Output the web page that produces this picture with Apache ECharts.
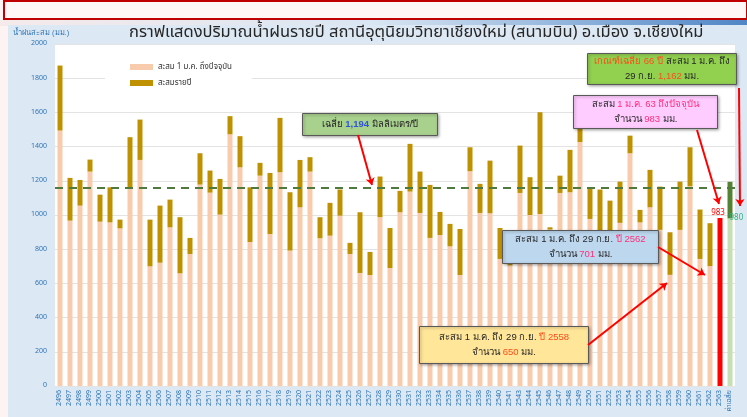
<!DOCTYPE html>
<html>
<head>
<meta charset="utf-8">
<script src="https://cdn.jsdelivr.net/npm/echarts@6/dist/echarts.min.js"></script>
<style>
  html, body { margin: 0; padding: 0; background: #fdf3f3; }
  #rain-chart { width: 747px; height: 417px; }
</style>
</head>
<body>
<div id="rain-chart"></div>
<script>
// ปี พ.ศ. (ไม่มี 2542 ในกราฟต้นฉบับ)
var years = [
  "2496", "2497", "2498", "2499", "2500", "2501", "2502", "2503", "2504", "2505",
  "2506", "2507", "2508", "2509", "2510", "2511", "2512", "2513", "2514", "2515",
  "2516", "2517", "2518", "2519", "2520", "2521", "2522", "2523", "2524", "2525",
  "2526", "2527", "2528", "2529", "2530", "2531", "2532", "2533", "2534", "2535",
  "2536", "2537", "2538", "2539", "2540", "2541", "2543", "2544", "2545", "2546",
  "2547", "2548", "2549", "2550", "2551", "2552", "2553", "2554", "2555", "2556",
  "2557", "2558", "2559", "2560", "2561", "2562", "2563", "ค่าเฉลี่ย"
];

// สะสม 1 ม.ค. ถึง 29 ก.ย. (มม.)
var ytdValues = [
  1494, 967, 1055, 1254, 961, 957, 922, 1152, 1322, 700,
  721, 928, 659, 772, 1178, 1131, 1002, 1472, 1279, 842,
  1230, 889, 1250, 792, 1045, 1254, 864, 879, 996, 772,
  661, 649, 987, 690, 1016, 1137, 1012, 866, 883, 817,
  649, 1256, 1012, 1010, 743, 705, 1129, 1000, 1006, 915,
  1129, 1133, 1427, 977, 900, 900, 954, 1361, 957, 1045,
  913, 650, 913, 1168, 743, 701, 983, 980
];

// สะสมทั้งปี (มม.)
var annualValues = [
  1874, 1217, 1205, 1324, 1119, 1162, 973, 1455, 1558, 973,
  1055, 1090, 987, 866, 1361, 1260, 1211, 1578, 1461, 1162,
  1305, 1246, 1568, 1133, 1322, 1338, 987, 1071, 1149, 837,
  1016, 784, 1225, 924, 1141, 1416, 1254, 1176, 1018, 948,
  918, 1396, 1182, 1318, 924, 860, 1406, 1221, 1601, 928,
  1230, 1381, 1560, 1162, 1149, 1084, 1195, 1464, 1030, 1264,
  1166, 899, 1195, 1396, 1032, 952, null, 1194
];

var normalLine = 1162;

var pinkColor = "#f8cbad";
var goldColor = "#bf9000";

var n = years.length;
var ytdData = ytdValues.map(function (v, i) {
  if (i === n - 2) {
    return {
      value: v,
      itemStyle: { color: "#ff0000" },
      label: { show: true, position: "top", distance: 1, color: "#ff0000", fontSize: 8, offset: [-2, 0] }
    };
  }
  if (i === n - 1) {
    return {
      value: v,
      itemStyle: { color: "#c5e0b4" },
      label: { show: true, position: [2, -4], color: "#2fb37a", fontSize: 8 }
    };
  }
  return v;
});

var extraData = annualValues.map(function (v, i) {
  if (v === null) return null;
  var d = v - ytdValues[i];
  if (i === n - 1) return { value: d, itemStyle: { color: "#548235" } };
  return d;
});

function box(x, y, w, h, fill, lines) {
  return {
    type: "group",
    left: x,
    top: y,
    z: 100,
    children: [
      {
        type: "rect",
        z: 100,
        shape: { x: 0, y: 0, width: w, height: h },
        style: { fill: fill, stroke: "#595959", lineWidth: 1, shadowBlur: 3, shadowColor: "rgba(0,0,0,0.35)", shadowOffsetX: 1, shadowOffsetY: 1 }
      },
      {
        type: "text",
        z: 101,
        x: w / 2,
        y: h / 2,
        style: {
          text: lines,
          align: "center",
          verticalAlign: "middle",
          fontSize: 9.5,
          lineHeight: 15,
          fill: "#262626",
          rich: {
            b: { fill: "#2f55d4", fontSize: 9.5, fontWeight: "bold" },
            o: { fill: "#ff4d1a", fontSize: 9.5 },
            p: { fill: "#ff2f7a", fontSize: 9.5 }
          }
        }
      }
    ]
  };
}

var option = {
  backgroundColor: "#fdf3f3",
  textStyle: { fontFamily: "Noto Sans Thai, Noto Sans, DejaVu Sans, sans-serif" },
  title: {
    text: "กราฟแสดงปริมาณน้ำฝนรายปี สถานีอุตุนิยมวิทยาเชียงใหม่ (สนามบิน) อ.เมือง จ.เชียงใหม่",
    left: 124,
    top: 20,
    textStyle: { fontSize: 16.5, fontWeight: "normal", color: "#262626" }
  },
  legend: {
    data: ["สะสม 1 ม.ค. ถึงปัจจุบัน", "สะสมรายปี"],
    orient: "vertical",
    left: 105,
    top: 53,
    padding: [10, 20, 8, 25],
    backgroundColor: "#ffffff",
    itemWidth: 23,
    itemHeight: 6,
    itemGap: 8,
    icon: "rect",
    textStyle: { fontSize: 8, color: "#333333" }
  },
  grid: {
    left: 55,
    right: 12,
    top: 44,
    bottom: 31,
    show: true,
    backgroundColor: "#ffffff",
    borderWidth: 0
  },
  xAxis: {
    type: "category",
    data: years,
    axisTick: { show: false },
    axisLine: { show: false },
    axisLabel: { rotate: 90, fontSize: 7, color: "#2e75b6", interval: 0, margin: 4 }
  },
  yAxis: {
    type: "value",
    min: 0,
    max: 2000,
    interval: 200,
    axisLine: { show: false },
    axisTick: { show: false },
    axisLabel: { fontSize: 7, color: "#2e75b6", margin: 8, formatter: function (v) { return String(v); } },
    splitLine: { lineStyle: { color: "#e3e3e3" } }
  },
  graphic: [
    { type: "rect", z: -10, left: 3, top: 0, shape: { width: 743, height: 18 }, style: { fill: "#fff6f6", stroke: "#c00000", lineWidth: 2 } },
    {
      type: "rect", z: -10, left: 0, top: 20, shape: { width: 747, height: 6 },
      style: {
        fill: new echarts.graphic.LinearGradient(0, 0, 1, 0, [
          { offset: 0, color: "#f6eaea" }, { offset: 0.5, color: "#d9e6f3" }, { offset: 1, color: "#4f86c6" }
        ])
      }
    },
    { type: "rect", z: -10, left: 8, top: 25, shape: { width: 739, height: 392 }, style: { fill: "#dce8f4" } },
    { type: "text", left: 13, top: 29, style: { text: "น้ำฝนสะสม (มม.)", fontSize: 7.5, fill: "#2e75b6" } },
    box(302, 113, 135, 22, "#a9d18e", "เฉลี่ย {b|1,194} มิลลิเมตร/ปี"),
    box(587, 53, 149, 31, "#92d050", "{o|เกณฑ์เฉลี่ย 66 ปี} สะสม 1 ม.ค. ถึง\n29 ก.ย. {o|1,162} มม."),
    box(573, 95, 144, 33, "#ffccff", "สะสม {p|1 ม.ค. 63 ถึงปัจจุบัน}\nจำนวน {p|983} มม."),
    box(502, 230, 156, 33, "#bdd7ee", "สะสม 1 ม.ค. ถึง 29 ก.ย. {p|ปี 2562}\nจำนวน {p|701} มม."),
    box(419, 326, 169, 37, "#ffe699", "สะสม 1 ม.ค. ถึง 29 ก.ย. {o|ปี 2558}\nจำนวน {o|650} มม.")
  ],
  series: [
    {
      name: "สะสม 1 ม.ค. ถึงปัจจุบัน",
      type: "bar",
      stack: "rain",
      barWidth: "50%",
      color: pinkColor,
      data: ytdData,
      markLine: {
        silent: true,
        symbol: ["none", "none"],
        label: { show: false },
        lineStyle: { color: "#4f7a3e", width: 2, type: [8, 6] },
        data: [{ yAxis: normalLine }]
      }
    },
    {
      name: "สะสมรายปี",
      type: "bar",
      stack: "rain",
      barWidth: "50%",
      color: goldColor,
      data: extraData,
      markLine: {
        silent: true,
        z: 120,
        symbol: ["none", "arrow"],
        symbolSize: 7,
        label: { show: false },
        lineStyle: { color: "#ff0000", width: 2, type: "solid" },
        data: [
          [{ x: 358, y: 135 }, { x: 372, y: 185 }],
          [{ x: 739, y: 88 }, { x: 740, y: 206 }],
          [{ x: 697, y: 130 }, { x: 719, y: 204 }],
          [{ x: 658, y: 247 }, { x: 705, y: 275 }],
          [{ x: 588, y: 345 }, { x: 667, y: 283 }]
        ]
      }
    }
  ]
};

var myChart = echarts.init(document.getElementById("rain-chart"));
myChart.setOption(option);

window.addEventListener("resize", function () {
  myChart.resize();
});
</script>
</body>
</html>
